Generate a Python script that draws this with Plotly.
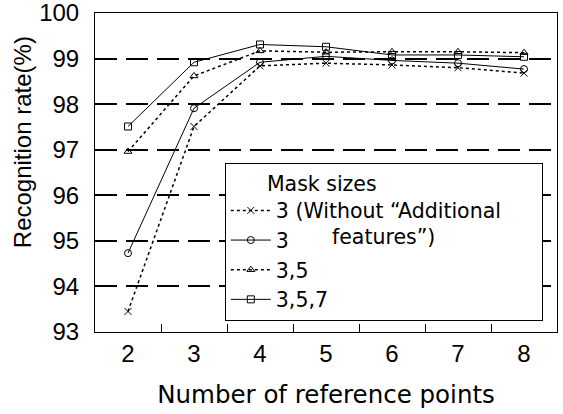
import plotly.graph_objects as go

ref_points = ["2", "3", "4", "5", "6", "7", "8"]
without_additional = [93.45, 97.51, 98.84, 98.90, 98.86, 98.80, 98.68]
mask_3 = [94.73, 97.91, 98.92, 99.05, 98.96, 98.90, 98.77]
mask_3_5 = [96.96, 98.62, 99.17, 99.14, 99.15, 99.15, 99.13]
mask_3_5_7 = [97.51, 98.92, 99.31, 99.26, 99.08, 99.08, 99.04]

series_names = ["3 (Without \u201cAdditional", "3", "3,5", "3,5,7"]
y_ticks = [93, 94, 95, 96, 97, 98, 99, 100]

styles = [
    dict(dash="dot", symbol="x-thin-open", width=1.5),
    dict(dash="solid", symbol="circle-open", width=1),
    dict(dash="dot", symbol="triangle-up-open", width=1.5),
    dict(dash="solid", symbol="square-open", width=1),
]

fig = go.Figure()
for name, vals, st in zip(series_names, [without_additional, mask_3, mask_3_5, mask_3_5_7], styles):
    fig.add_trace(go.Scatter(
        x=ref_points, y=vals, name=name, mode="lines+markers",
        line=dict(color="black", width=st["width"], dash=st["dash"]),
        marker=dict(symbol=st["symbol"], size=7, color="black",
                    line=dict(color="black", width=1)),
    ))

fig.add_annotation(
    text="features\u201d)", xref="paper", yref="paper",
    x=0.509, y=0.298, xanchor="left", yanchor="middle", showarrow=False,
    font=dict(family="DejaVu Sans", size=20.5, color="black"),
)
fig.add_annotation(
    text="Recognition rate(%)", xref="paper", yref="paper",
    x=-0.158, y=0.595, xanchor="center", yanchor="middle", textangle=-90,
    showarrow=False,
    font=dict(family="Liberation Sans", size=24, color="black"),
)

nb = "&nbsp;"
fig.update_layout(
    width=563, height=414,
    margin=dict(l=95, r=6, t=13, b=82),
    paper_bgcolor="white", plot_bgcolor="white",
    showlegend=True,
    legend=dict(
        x=0.281, y=0.53, xanchor="left", yanchor="top",
        bordercolor="black", borderwidth=1, bgcolor="white",
        font=dict(family="DejaVu Sans", size=20.5, color="black"),
        title=dict(text=nb * 6 + "Mask sizes" + nb * 25,
                   font=dict(family="DejaVu Sans", size=20.5, color="black")),
        itemwidth=40, tracegroupgap=0,
    ),
    xaxis=dict(
        type="category", range=[-0.5, 6.5], tickson="boundaries",
        ticks="inside", ticklen=8, tickcolor="black",
        showline=True, linecolor="black", linewidth=1, mirror=True,
        showgrid=False, zeroline=False, automargin=False,
        tickfont=dict(family="Liberation Sans", size=24, color="black"),
        title=dict(text="Number of reference points", standoff=20,
                   font=dict(family="DejaVu Sans", size=24.5, color="black")),
    ),
    yaxis=dict(
        range=[92.999, 100.001], tickvals=y_ticks,
        ticks="inside", ticklen=4, tickcolor="black",
        showline=True, linecolor="black", linewidth=1, mirror=True,
        showgrid=True, gridcolor="black", gridwidth=1.5, griddash="22px,9px",
        zeroline=False, automargin=False,
        tickfont=dict(family="Liberation Sans", size=24, color="black"),
        ticklabelstandoff=10, ticklabeloverflow="allow",
    ),
)

fig.write_html("out.html")
